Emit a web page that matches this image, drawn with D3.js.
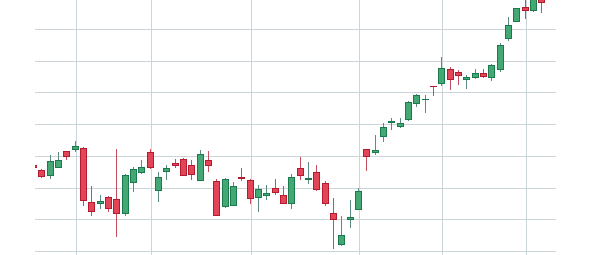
<!DOCTYPE html>
<html lang="en">
<head>
  <meta charset="UTF-8">
  <title>Candles</title>
  <style>
    body { margin: 0; background: #fff; }
    svg { display: block; }
  </style>
</head>
<body>
  <script src="https://d3js.org/d3.v7.min.js"></script>
  <script>
    // trading days (weekdays only)
    const fmt = d3.timeFormat('%Y-%m-%d');
    const dates = [];
    for (let d = new Date(2023, 0, 2); dates.length < 62; d.setDate(d.getDate() + 1)) {
      if (d.getDay() !== 0 && d.getDay() !== 6) dates.push(fmt(d));
    }

    const open  = [22.72, 22.56, 22.38, 22.64, 23.16, 23.21, 23.25, 21.55, 21.50, 21.73,
                   21.65, 21.17, 22.16, 22.49, 23.14, 21.92, 22.52, 22.78, 22.91, 22.72,
                   22.23, 22.87, 22.21, 21.40, 21.44, 22.34, 22.25, 21.69, 21.75, 21.99,
                   21.77, 21.51, 22.62, 22.26, 22.52, 22.15, 21.20, 20.21, 21.00, 21.31,
                   23.22, 23.11, 23.61, 24.06, 23.93, 24.16, 24.65, 24.78, 25.22, 25.29,
                   25.74, 25.65, 25.41, 25.48, 25.62, 25.48, 25.73, 26.70, 27.25, 27.71,
                   27.57, 28.02];
    const high  = [22.75, 22.61, 23.04, 23.13, 23.18, 23.50, 23.29, 22.06, 21.78, 21.76,
                   23.23, 22.45, 22.66, 22.89, 23.23, 22.50, 22.72, 22.93, 22.95, 22.89,
                   23.19, 23.16, 22.28, 22.32, 22.19, 22.63, 22.30, 22.09, 22.09, 22.30,
                   22.07, 22.44, 22.97, 22.82, 22.72, 22.22, 21.69, 21.11, 21.62, 22.00,
                   23.23, 23.67, 24.04, 24.21, 24.21, 24.74, 24.98, 24.94, 25.22, 26.14,
                   25.81, 25.72, 25.56, 25.75, 25.74, 25.92, 26.58, 27.40, 27.69, 28.02,
                   28.15, 28.10];
    const low   = [22.60, 22.33, 22.30, 22.62, 22.90, 23.13, 21.44, 21.13, 21.35, 21.26,
                   20.46, 21.13, 21.87, 22.44, 22.61, 21.55, 22.25, 22.64, 22.37, 22.26,
                   22.22, 22.52, 21.11, 21.36, 21.43, 22.23, 21.49, 21.24, 21.63, 21.77,
                   21.50, 21.35, 22.26, 22.14, 21.92, 21.44, 20.09, 20.17, 20.74, 21.30,
                   22.54, 23.05, 23.46, 23.83, 23.90, 24.12, 24.56, 24.38, 24.91, 25.23,
                   25.09, 25.24, 25.12, 25.45, 25.47, 25.37, 25.67, 26.64, 27.24, 27.33,
                   27.55, 27.52];
    const close = [22.62, 22.35, 22.85, 22.90, 22.98, 23.32, 21.58, 21.26, 21.59, 21.35,
                   21.19, 22.41, 22.60, 22.65, 22.64, 22.34, 22.63, 22.70, 22.38, 22.42,
                   23.06, 22.71, 21.13, 22.30, 22.05, 22.29, 21.67, 21.96, 21.86, 21.86,
                   21.51, 22.34, 22.39, 22.32, 21.93, 21.51, 21.00, 20.51, 21.09, 21.90,
                   22.98, 23.19, 23.94, 24.11, 24.04, 24.70, 24.93, 24.81, 25.19, 25.78,
                   25.42, 25.54, 25.50, 25.62, 25.50, 25.88, 26.51, 27.14, 27.67, 27.58,
                   28.05, 27.84];

    const yTicks = [20, 21, 22, 23, 24, 25, 26, 27];
    const xTicks = ['2023-01-09', '2023-01-20', '2023-02-07', '2023-02-24', '2023-03-10', '2023-03-24'];

    const [width, height] = [591, 255];
    const plot = { left: 35, right: 556 };

    const svg = d3.select('body').append('svg').attr('width', width).attr('height', height);

    const x = d3.scalePoint().domain(dates).range([33, 541.33]);
    const y = d3.scaleLinear().domain([20, 27]).range([251.5, 29.5]);
    const cx = d => Math.round(x(d)) + 0.5;

    // 网格
    svg.append('g')
      .selectAll('line')
      .data(yTicks)
      .join('line')
      .attr('x1', plot.left)
      .attr('x2', plot.right)
      .attr('y1', d => Math.floor(y(d)) + 0.5)
      .attr('y2', d => Math.floor(y(d)) + 0.5)
      .attr('stroke', '#ccd6da');

    svg.append('g')
      .selectAll('line')
      .data(xTicks)
      .join('line')
      .attr('x1', d => cx(d) + 1)
      .attr('x2', d => cx(d) + 1)
      .attr('y1', 0)
      .attr('y2', height)
      .attr('stroke', '#ccd6da');

    svg.append('clipPath').attr('id', 'clip')
      .append('rect')
      .attr('x', plot.left).attr('y', -10)
      .attr('width', plot.right - plot.left).attr('height', height + 20);

    const candles = dates.map((d, i) => ({ d, o: open[i], h: high[i], l: low[i], c: close[i] }));

    const g = svg.append('g').attr('clip-path', 'url(#clip)')
      .selectAll('g')
      .data(candles)
      .join('g');

    // 影线
    g.append('line')
      .attr('x1', d => cx(d.d))
      .attr('x2', d => cx(d.d))
      .attr('y1', d => Math.round(y(d.h)))
      .attr('y2', d => Math.round(y(d.l)))
      .attr('stroke', d => d.c >= d.o ? '#5e8a84' : '#c4505f');

    const bodyTop = d => Math.round(y(Math.max(d.o, d.c)));
    const bodyBot = d => Math.round(y(Math.min(d.o, d.c)));

    // 实体
    g.append('rect')
      .attr('x', d => cx(d.d) - 3.5)
      .attr('y', bodyTop)
      .attr('width', 7)
      .attr('height', d => Math.max(bodyBot(d) - bodyTop(d), 1))
      .attr('fill', d => d.c >= d.o ? '#1b7a4c' : '#b31b2f');

    g.append('rect')
      .attr('x', d => cx(d.d) - 2.5)
      .attr('y', d => bodyTop(d) + 1)
      .attr('width', 5)
      .attr('height', d => Math.max(bodyBot(d) - bodyTop(d) - 2, 0))
      .attr('fill', d => d.c >= d.o ? '#44a874' : '#e44457');
  </script>
</body>
</html>
